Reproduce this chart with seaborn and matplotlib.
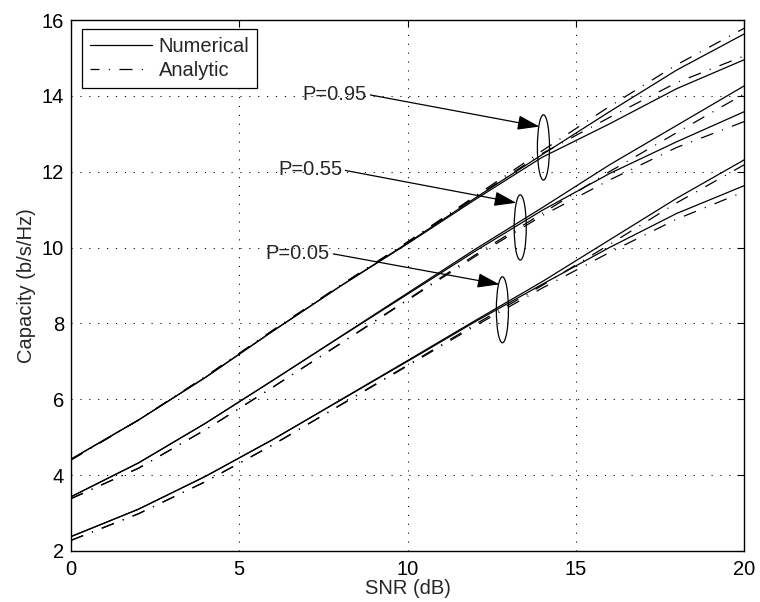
import numpy as np
import pandas as pd
import matplotlib
matplotlib.use("Agg")
import matplotlib.pyplot as plt
from matplotlib.patches import Ellipse
from matplotlib.lines import Line2D
import seaborn as sns

# ---------------- data ----------------
snr = [0, 2, 4, 6, 8, 10, 12, 14, 16, 18, 20]

num_095_a = [4.42, 5.45, 6.58, 7.80, 8.98, 10.12, 11.30, 12.45, 13.58, 14.68, 15.63]
num_095_b = [4.42, 5.45, 6.58, 7.80, 8.98, 10.10, 11.26, 12.38, 13.26, 14.19, 14.95]
ana_095_a = [4.40, 5.45, 6.60, 7.82, 9.00, 10.15, 11.35, 12.55, 13.72, 14.82, 15.78]
ana_095_b = [4.40, 5.45, 6.60, 7.82, 9.00, 10.14, 11.32, 12.48, 13.43, 14.35, 15.05]

num_055_a = [3.43, 4.32, 5.37, 6.50, 7.65, 8.80, 9.95, 11.05, 12.18, 13.22, 14.26]
num_055_b = [3.43, 4.32, 5.37, 6.50, 7.64, 8.77, 9.90, 10.98, 11.95, 12.79, 13.58]
ana_055_a = [3.38, 4.18, 5.20, 6.32, 7.47, 8.63, 9.80, 10.90, 12.00, 13.03, 14.05]
ana_055_b = [3.38, 4.18, 5.20, 6.32, 7.46, 8.61, 9.76, 10.84, 11.78, 12.64, 13.32]

num_005_a = [2.38, 3.10, 3.97, 4.94, 5.98, 7.02, 8.07, 9.10, 10.20, 11.30, 12.31]
num_005_b = [2.38, 3.10, 3.97, 4.94, 5.97, 7.00, 8.04, 9.03, 10.00, 10.90, 11.63]
ana_005_a = [2.28, 2.98, 3.83, 4.80, 5.85, 6.90, 7.97, 9.00, 10.08, 11.18, 12.18]
ana_005_b = [2.28, 2.98, 3.83, 4.80, 5.84, 6.88, 7.93, 8.93, 9.87, 10.75, 11.47]

legend_labels = ["Numerical", "Analytic"]

ann_labels = ["P=0.95", "P=0.55", "P=0.05"]
ann_text_x = [6.89, 6.15, 5.79]
ann_text_y = [14.04, 12.05, 9.85]
ann_tip_x = [13.92, 13.23, 12.73]
ann_tip_y = [13.19, 11.18, 9.03]
ell_x = [14.04, 13.35, 12.82]
ell_y = [12.64, 10.53, 8.36]
ell_w = [0.36, 0.36, 0.36]
ell_h = [1.72, 1.72, 1.74]

xticks = [0, 5, 10, 15, 20]
yticks = [2, 4, 6, 8, 10, 12, 14, 16]

# ---------------- build table ----------------
series = {
    ("095a", "Numerical"): num_095_a, ("095b", "Numerical"): num_095_b,
    ("095a_an", "Analytic"): ana_095_a, ("095b_an", "Analytic"): ana_095_b,
    ("055a", "Numerical"): num_055_a, ("055b", "Numerical"): num_055_b,
    ("055a_an", "Analytic"): ana_055_a, ("055b_an", "Analytic"): ana_055_b,
    ("005a", "Numerical"): num_005_a, ("005b", "Numerical"): num_005_b,
    ("005a_an", "Analytic"): ana_005_a, ("005b_an", "Analytic"): ana_005_b,
}
rows = []
for (cid, kind), vals in series.items():
    for s, v in zip(snr, vals):
        rows.append({"snr": s, "cap": v, "curve": cid, "kind": kind})
df = pd.DataFrame(rows)

# ---------------- style ----------------
sns.set_theme(style="white")
plt.rcParams["font.family"] = ["Liberation Sans", "DejaVu Sans"]
plt.rcParams["lines.scale_dashes"] = False
FS = 14.5

dashdot = (9.4, 6.8, 0.8, 6.8)
grid_dots = (0, (0.8, 5.6))

fig = plt.figure(figsize=(7.6, 6.02), dpi=100)
ax = fig.add_axes([71 / 760, 1 - 551 / 602, 673 / 760, 531 / 602])

sns.lineplot(data=df, x="snr", y="cap", units="curve", estimator=None,
             style="kind", dashes={"Numerical": "", "Analytic": dashdot},
             color="black", lw=0.9, legend=False, ax=ax, sort=True)

ax.set_xlim(0, 20)
ax.set_ylim(2, 16)
ax.set_xticks(xticks)
ax.set_yticks(yticks)
ax.set_xticklabels([str(t) for t in xticks], fontsize=FS)
ax.set_yticklabels([str(t) for t in yticks], fontsize=FS)
ax.tick_params(direction="in", length=5, width=0.8, top=True, right=True,
               colors="black")
ax.tick_params(axis="x", pad=6.5)
ax.tick_params(axis="y", pad=5)

ax.grid(True, color="black", linestyle=grid_dots, linewidth=0.75)
for sp in ax.spines.values():
    sp.set_color("black")
    sp.set_linewidth(1.0)
    sp.set_visible(True)

ax.set_xlabel("SNR (dB)", fontsize=FS, labelpad=0)
ax.set_ylabel("Capacity (b/s/Hz)", fontsize=FS, labelpad=4)

# legend
handles = [Line2D([], [], color="black", lw=0.9),
           Line2D([], [], color="black", lw=0.9, linestyle=(3, dashdot))]
leg = ax.legend(handles, legend_labels, loc="upper left",
                bbox_to_anchor=(0.0163, 0.983), borderaxespad=0,
                fontsize=FS, handlelength=3.1, handletextpad=0.3,
                labelspacing=0.25, borderpad=0.4, fancybox=False,
                framealpha=1, edgecolor="black")
leg.get_frame().set_linewidth(0.9)

# ellipses and annotations
for ex, ey, ew, eh in zip(ell_x, ell_y, ell_w, ell_h):
    ax.add_patch(Ellipse((ex, ey), ew, eh, fill=False, edgecolor="black", lw=0.9))

for lab, tx, ty, px, py in zip(ann_labels, ann_text_x, ann_text_y, ann_tip_x, ann_tip_y):
    ax.annotate(lab, xy=(px, py), xytext=(tx, ty), fontsize=FS,
                ha="left", va="center",
                arrowprops=dict(arrowstyle="-|>,head_length=0.9,head_width=0.3",
                                mutation_scale=15, color="black", lw=0.9,
                                relpos=(1.0, 0.5), shrinkA=0, shrinkB=0))

fig.savefig("out.png", dpi=100)
